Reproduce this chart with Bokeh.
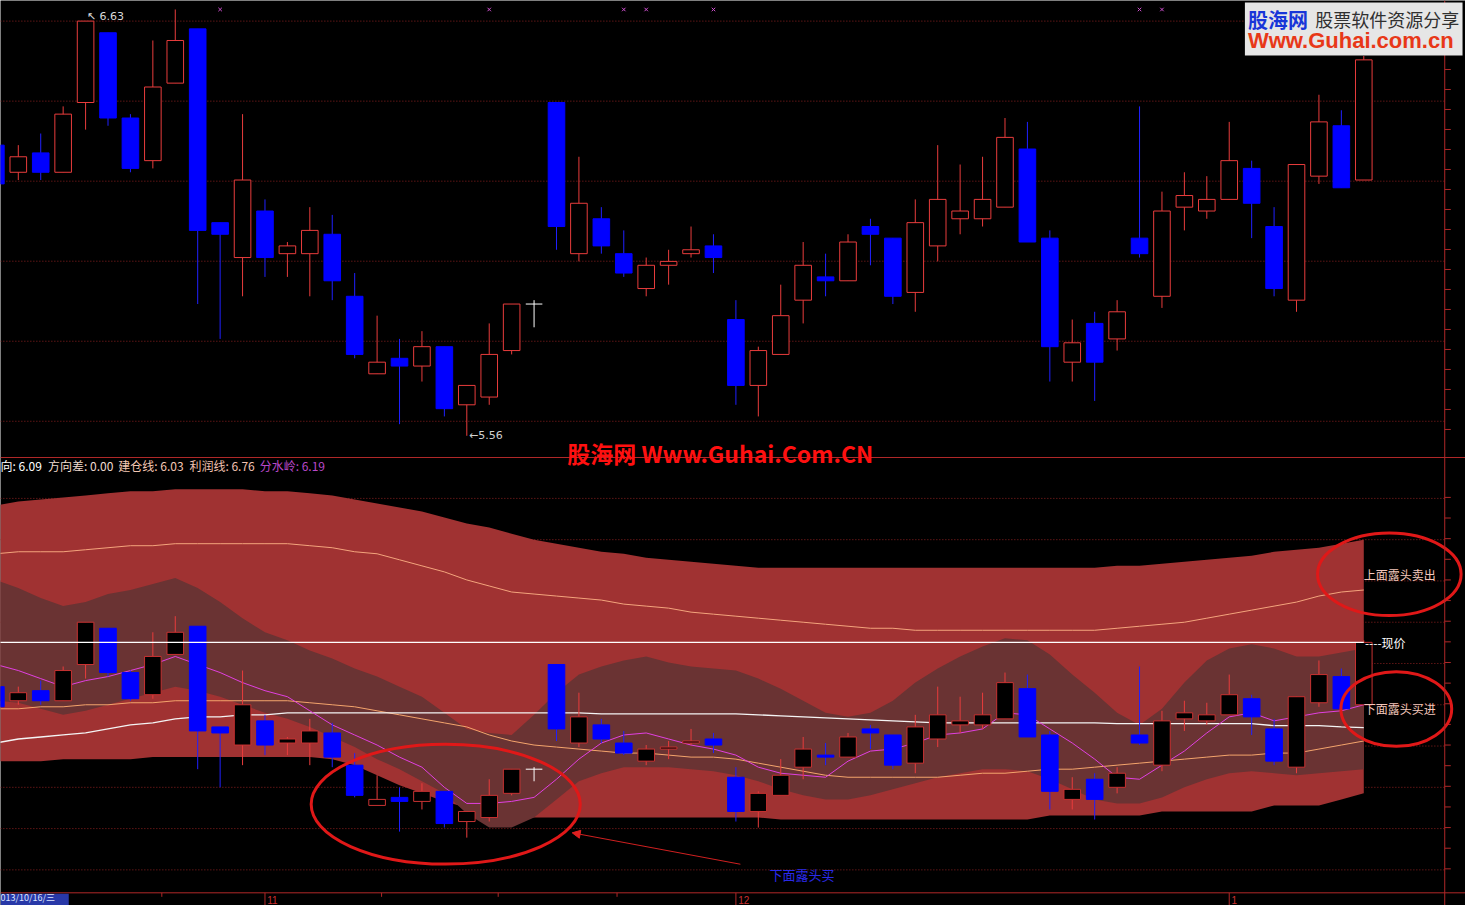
from bokeh.plotting import figure
from bokeh.models import Range1d, Label, Arrow, NormalHead, BoxAnnotation, Span
from bokeh.embed import file_html
from bokeh.resources import INLINE

# ---------------- data ----------------
idx = list(range(-1, 61))
opens = [6.31, 6.24, 6.29, 6.24, 6.42, 6.60, 6.38, 6.27, 6.47, 6.61, 6.11, 6.02, 6.14, 6.03, 6.03, 6.08,
         5.92, 5.72, 5.76, 5.74, 5.79, 5.64, 5.66, 5.78, 5.90, 6.42, 6.03, 6.12, 6.03, 5.94, 6.00, 6.03,
         6.05, 5.86, 5.69, 5.77, 5.91, 5.97, 5.96, 6.10, 6.07, 5.93, 6.05, 6.12, 6.12, 6.15, 6.30, 6.07,
         5.75, 5.85, 5.81, 6.07, 5.92, 6.15, 6.14, 6.17, 6.25, 6.10, 5.91, 6.23, 6.36, 6.22]
highs = [6.31, 6.31, 6.34, 6.41, 6.63, 6.60, 6.39, 6.58, 6.66, 6.61, 6.11, 6.39, 6.17, 6.06, 6.15, 6.13,
         5.98, 5.87, 5.81, 5.83, 5.79, 5.69, 5.85, 5.90, 5.91, 6.42, 6.28, 6.15, 6.09, 6.02, 6.04, 6.10,
         6.08, 5.91, 5.79, 5.95, 6.06, 6.03, 6.08, 6.12, 6.07, 6.17, 6.31, 6.26, 6.28, 6.38, 6.37, 6.09,
         5.86, 5.88, 5.91, 6.41, 6.19, 6.24, 6.23, 6.37, 6.27, 6.15, 6.26, 6.44, 6.40, 6.54]
lows = [6.20, 6.22, 6.22, 6.24, 6.35, 6.36, 6.24, 6.25, 6.47, 5.90, 5.81, 5.92, 5.97, 5.97, 5.92, 5.91,
        5.76, 5.72, 5.59, 5.70, 5.61, 5.56, 5.64, 5.77, 5.84, 6.04, 6.01, 6.03, 5.97, 5.92, 5.95, 6.02,
        5.98, 5.64, 5.61, 5.77, 5.85, 5.92, 5.96, 6.00, 5.90, 5.88, 6.01, 6.08, 6.10, 6.15, 6.06, 5.70,
        5.70, 5.65, 5.78, 6.02, 5.89, 6.09, 6.12, 6.17, 6.07, 5.92, 5.88, 6.21, 6.20, 6.22]
closes = [6.21, 6.28, 6.24, 6.39, 6.63, 6.38, 6.25, 6.46, 6.58, 6.09, 6.08, 6.22, 6.02, 6.05, 6.09, 5.96,
          5.77, 5.75, 5.74, 5.79, 5.63, 5.69, 5.77, 5.90, 5.90, 6.10, 6.16, 6.05, 5.98, 6.00, 6.01, 6.04,
          6.02, 5.69, 5.78, 5.87, 6.00, 5.96, 6.06, 6.08, 5.92, 6.11, 6.17, 6.14, 6.17, 6.33, 6.06, 5.79,
          5.80, 5.75, 5.88, 6.03, 6.14, 6.18, 6.17, 6.27, 6.16, 5.94, 6.26, 6.37, 6.20, 6.53]

# indicator series (lower panel)
band_top = [7.21, 7.23, 7.24, 7.25, 7.26, 7.27, 7.28, 7.28, 7.29, 7.29, 7.29, 7.29, 7.28, 7.28, 7.27, 7.26,
            7.24, 7.22, 7.20, 7.18, 7.15, 7.12, 7.10, 7.07, 7.04, 7.02, 7.00, 6.98, 6.97, 6.95, 6.94, 6.93,
            6.92, 6.91, 6.90, 6.90, 6.90, 6.90, 6.90, 6.90, 6.90, 6.90, 6.90, 6.90, 6.90, 6.90, 6.90, 6.90,
            6.90, 6.90, 6.91, 6.91, 6.92, 6.93, 6.94, 6.95, 6.96, 6.98, 6.99, 7.00, 7.02, 7.04]
band_bot = [5.94, 5.94, 5.94, 5.95, 5.95, 5.95, 5.95, 5.96, 5.96, 5.96, 5.96, 5.96, 5.96, 5.96, 5.96, 5.95,
            5.92, 5.87, 5.82, 5.78, 5.74, 5.71, 5.68, 5.67, 5.66, 5.66, 5.66, 5.66, 5.66, 5.66, 5.66, 5.66,
            5.66, 5.66, 5.66, 5.65, 5.65, 5.65, 5.65, 5.65, 5.65, 5.65, 5.65, 5.65, 5.65, 5.65, 5.65, 5.67,
            5.67, 5.67, 5.67, 5.67, 5.69, 5.69, 5.69, 5.69, 5.69, 5.72, 5.72, 5.72, 5.75, 5.78]
inner_top = [6.84, 6.80, 6.75, 6.71, 6.73, 6.77, 6.79, 6.82, 6.85, 6.80, 6.73, 6.65, 6.58, 6.54, 6.49, 6.45,
             6.40, 6.36, 6.31, 6.26, 6.18, 6.10, 6.08, 6.07, 6.17, 6.28, 6.37, 6.41, 6.44, 6.46, 6.43, 6.41,
             6.40, 6.39, 6.35, 6.30, 6.24, 6.18, 6.16, 6.18, 6.24, 6.33, 6.40, 6.46, 6.51, 6.55, 6.54, 6.47,
             6.37, 6.28, 6.18, 6.12, 6.20, 6.33, 6.44, 6.50, 6.52, 6.50, 6.46, 6.46, 6.48, 6.50]
inner_bot = [6.24, 6.23, 6.20, 6.17, 6.19, 6.22, 6.25, 6.28, 6.31, 6.29, 6.26, 6.22, 6.18, 6.15, 6.11, 6.06,
             6.01, 5.95, 5.90, 5.84, 5.78, 5.68, 5.61, 5.61, 5.66, 5.75, 5.84, 5.88, 5.91, 5.91, 5.91, 5.90,
             5.89, 5.87, 5.84, 5.80, 5.77, 5.75, 5.75, 5.77, 5.80, 5.83, 5.86, 5.88, 5.90, 5.90, 5.89, 5.85,
             5.80, 5.75, 5.73, 5.73, 5.76, 5.81, 5.85, 5.88, 5.89, 5.88, 5.87, 5.88, 5.89, 5.90]
profit_line = [6.97, 6.98, 6.98, 6.98, 6.99, 7.00, 7.01, 7.01, 7.02, 7.02, 7.02, 7.02, 7.02, 7.02, 7.01, 7.00,
               6.98, 6.97, 6.94, 6.91, 6.88, 6.84, 6.81, 6.78, 6.77, 6.76, 6.75, 6.74, 6.72, 6.71, 6.70, 6.68,
               6.67, 6.66, 6.65, 6.64, 6.63, 6.62, 6.61, 6.60, 6.60, 6.59, 6.59, 6.59, 6.59, 6.59, 6.59, 6.59,
               6.59, 6.59, 6.60, 6.61, 6.62, 6.63, 6.65, 6.67, 6.69, 6.71, 6.73, 6.76, 6.78, 6.79]
build_line = [6.20, 6.20, 6.21, 6.21, 6.22, 6.22, 6.23, 6.23, 6.24, 6.24, 6.24, 6.24, 6.24, 6.24, 6.23, 6.22,
              6.21, 6.19, 6.17, 6.15, 6.13, 6.11, 6.07, 6.04, 6.02, 6.01, 6.00, 5.99, 5.98, 5.98, 5.97, 5.96,
              5.96, 5.95, 5.93, 5.91, 5.89, 5.87, 5.86, 5.86, 5.86, 5.86, 5.86, 5.87, 5.88, 5.88, 5.89, 5.90,
              5.90, 5.91, 5.92, 5.93, 5.94, 5.95, 5.96, 5.97, 5.97, 5.98, 5.98, 6.00, 6.02, 6.04]
divide_line = [6.03, 6.05, 6.06, 6.07, 6.08, 6.10, 6.12, 6.13, 6.15, 6.16, 6.16, 6.17, 6.17, 6.18, 6.18, 6.18,
               6.18, 6.18, 6.18, 6.18, 6.18, 6.18, 6.18, 6.18, 6.18, 6.18, 6.18, 6.175, 6.175, 6.175, 6.175, 6.175,
               6.175, 6.175, 6.17, 6.165, 6.16, 6.155, 6.15, 6.145, 6.14, 6.135, 6.13, 6.13, 6.13, 6.13, 6.13, 6.13,
               6.13, 6.13, 6.126, 6.126, 6.126, 6.126, 6.126, 6.126, 6.126, 6.116, 6.116, 6.116, 6.11, 6.106]
direction_line = [6.42, 6.39, 6.35, 6.31, 6.34, 6.36, 6.39, 6.42, 6.46, 6.42, 6.38, 6.33, 6.29, 6.26, 6.19, 6.12,
                  6.07, 6.02, 5.96, 5.91, 5.81, 5.73, 5.73, 5.74, 5.76, 5.85, 5.95, 6.03, 6.07, 6.08, 6.05, 6.02,
                  6.00, 5.97, 5.91, 5.88, 5.87, 5.86, 5.94, 5.99, 6.00, 6.03, 6.07, 6.08, 6.10, 6.18, 6.17, 6.10,
                  6.03, 5.95, 5.86, 5.85, 5.92, 5.99, 6.08, 6.16, 6.18, 6.14, 6.16, 6.18, 6.19, 6.22]

signal_marks = [9, 21, 27, 28, 31, 50, 51]
hi_label = (3, 6.63)
lo_label = (20, 5.56)
month_idx = [11, 32, 54]
month_txt = ["11", "12", "1"]
week_ticks = [6.4, 16.2, 21.4, 26.7]
header_parts = ["向: 6.09", "方向差: 0.00", "建仓线: 6.03", "利润线: 6.76", "分水岭: 6.19"]
grid_top = [6.63 - k * 0.2065 for k in range(6)]
grid_bot = [6.63 - k * 0.205 for k in range(-3, 7)]

# ---------------- figure ----------------
W, H = 1465, 905
RW, RH = 1481.0, 921.0


def sx(px):
    return px * W / RW


def sy(py):
    return H - py * H / RH


p = figure(width=W, height=H, x_range=Range1d(-0.794, 64.536), y_range=Range1d(4.3481, 6.6832),
           output_backend="svg", toolbar_location=None, min_border=0,
           x_axis_type=None, y_axis_type=None,
           background_fill_color="black", border_fill_color="black", outline_line_color=None)
p.extra_y_ranges = {"bot": Range1d(5.223, 9.718)}
p.grid.visible = False

AX = 63.61   # right axis position (index units)
GRID = "#8c2020"
RED = "#e83c3c"
BLUE = "#0000ff"
BW = 0.74

# gridlines
p.segment(x0=[-0.8] * len(grid_top), x1=[AX] * len(grid_top), y0=grid_top, y1=grid_top,
          line_color=GRID, line_dash="1 2", line_width=1)
p.segment(x0=[-0.8] * len(grid_bot), x1=[AX] * len(grid_bot), y0=grid_bot, y1=grid_bot,
          line_color=GRID, line_dash="1 2", line_width=1, y_range_name="bot")

up = [c > o for o, c in zip(opens, closes)]
dn = [c < o for o, c in zip(opens, closes)]
eq = [c == o for o, c in zip(opens, closes)]


def sel(arr, mask):
    return [a for a, m in zip(arr, mask) if m]


def candles(kw, up_line):
    p.segment(x0=sel(idx, up), x1=sel(idx, up), y0=sel(lows, up), y1=sel(highs, up), line_color=RED, **kw)
    p.segment(x0=sel(idx, dn), x1=sel(idx, dn), y0=sel(lows, dn), y1=sel(highs, dn), line_color="#2020ff", **kw)
    p.segment(x0=sel(idx, eq), x1=sel(idx, eq), y0=sel(lows, eq), y1=sel(highs, eq), line_color="white", **kw)
    p.vbar(x=sel(idx, up), width=BW, top=sel(closes, up), bottom=sel(opens, up),
           fill_color="black", line_color=up_line, line_width=1, **kw)
    p.vbar(x=sel(idx, dn), width=BW, top=sel(opens, dn), bottom=sel(closes, dn),
           fill_color=BLUE, line_color=BLUE, line_width=1, **kw)
    p.segment(x0=[i - BW / 2 for i in sel(idx, eq)], x1=[i + BW / 2 for i in sel(idx, eq)],
              y0=sel(opens, eq), y1=sel(opens, eq), line_color="white", **kw)


# ---------- top panel ----------
candles({}, RED)

# ---------- lower panel ----------
p.varea(x=idx, y1=band_bot, y2=band_top, fill_color="#a03232", y_range_name="bot")
p.varea(x=idx, y1=inner_bot, y2=inner_top, fill_color="#6a3333", y_range_name="bot")
p.line(idx, profit_line, line_color="#f4a47c", line_width=1, y_range_name="bot")
p.line(idx, build_line, line_color="#f4a46c", line_width=1, y_range_name="bot")
p.line(idx, divide_line, line_color="#f4f4f4", line_width=1.3, y_range_name="bot")
p.line(idx, direction_line, line_color="#e040e0", line_width=1, y_range_name="bot")
candles({"y_range_name": "bot"}, "#c83232")

# current price line
p.segment(x0=[idx[0]], x1=[idx[-1]], y0=[closes[-1]], y1=[closes[-1]], line_color="white",
          line_width=1.2, y_range_name="bot")

# signal marks at top
p.scatter(x=signal_marks, y=[6.66] * len(signal_marks), marker="x", size=5, line_color="#d050d0")

# separators / axes
p.add_layout(Span(location=5.504, dimension="width", line_color="#b02828", line_width=1))
p.add_layout(Span(location=5.286, dimension="width", line_color="#b02828", line_width=1, y_range_name="bot"))
p.add_layout(Span(location=AX, dimension="height", line_color="#b02828", line_width=1))

t_ticks = [6.66 - k * 0.0516 for k in range(22)]
p.segment(x0=[AX] * len(t_ticks), x1=[AX + 0.27] * len(t_ticks), y0=t_ticks, y1=t_ticks, line_color="#b02828")
b_ticks = [7.25 - k * 0.1025 for k in range(19)]
p.segment(x0=[AX] * len(b_ticks), x1=[AX + 0.27] * len(b_ticks), y0=b_ticks, y1=b_ticks,
          line_color="#b02828", y_range_name="bot")

# bottom date axis
p.segment(x0=month_idx, x1=month_idx, y0=[5.286] * 3, y1=[5.20] * 3, line_color="#b02828", y_range_name="bot")
p.segment(x0=week_ticks, x1=week_ticks, y0=[5.286] * 4, y1=[5.266] * 4, line_color="#b02828", y_range_name="bot")
for m, t in zip(month_idx, month_txt):
    p.add_layout(Label(x=m + 0.1, y=1.5, y_units="screen", text=t, text_color="#c83030",
                       text_font_size="10px", text_baseline="bottom", text_font="Liberation Sans"))
p.add_layout(BoxAnnotation(left=sx(0), right=sx(69), bottom=sy(921), top=sy(909),
                           left_units="screen", right_units="screen", top_units="screen", bottom_units="screen",
                           fill_color="#2838a8", fill_alpha=1, line_color=None))
p.add_layout(Label(x=sx(0), y=1.5, x_units="screen", y_units="screen", text="013/10/16/三",
                   text_color="#dce4ff", text_font_size="9px", text_baseline="bottom",
                   text_font="Noto Sans CJK SC"))

# hi / lo labels
p.add_layout(Label(x=hi_label[0] + 0.05, y=hi_label[1] + 0.012, text="↖ " + f"{hi_label[1]:.2f}",
                   text_color="#d8d8d8", text_font_size="11px", text_baseline="middle",
                   text_font="DejaVu Sans"))
p.add_layout(Label(x=lo_label[0] + 0.1, y=lo_label[1], text="←" + f"{lo_label[1]:.2f}",
                   text_color="#d0d0d0", text_font_size="11px", text_baseline="middle",
                   text_font="DejaVu Sans"))

# header line of the lower panel
hx = [0, 48, 119, 191, 262]
hcol = ["#ffffff", "#f0dcd0", "#f5c8b4", "#f2c0b0", "#b848c8"]
for x, t, c in zip(hx, header_parts, hcol):
    p.add_layout(Label(x=sx(x), y=sy(473), x_units="screen", y_units="screen", text=t, text_color=c,
                       text_font_size="12px", text_baseline="middle", text_font="Noto Sans CJK SC"))

# watermark
p.add_layout(Label(x=sx(573), y=sy(461), x_units="screen", y_units="screen", text="股海网 Www.Guhai.Com.CN",
                   text_color="#ff1010", text_font_size="23px", text_font_style="bold", text_baseline="middle",
                   text_font="Noto Sans CJK SC"))

# logo
p.add_layout(BoxAnnotation(left=sx(1258), right=sx(1478), top=sy(2), bottom=sy(56),
                           left_units="screen", right_units="screen", top_units="screen", bottom_units="screen",
                           fill_color="#e6e6e6", fill_alpha=1, line_color=None))
p.add_layout(Label(x=sx(1261), y=sy(19), x_units="screen", y_units="screen", text="股海网",
                   text_color="#1836d8", text_font_size="20px", text_font_style="bold", text_baseline="middle",
                   text_font="Noto Sans CJK SC"))
p.add_layout(Label(x=sx(1329), y=sy(19), x_units="screen", y_units="screen", text="股票软件资源分享",
                   text_color="#303030", text_font_size="18px", text_baseline="middle",
                   text_font="Noto Sans CJK SC"))
p.add_layout(Label(x=sx(1261), y=sy(41), x_units="screen", y_units="screen", text="Www.Guhai.com.cn",
                   text_color="#e83818", text_font_size="22px", text_font_style="bold", text_baseline="middle",
                   text_font="Liberation Sans"))

# annotations on lower panel
p.ellipse(x=[19.06, 61.14, 61.45], y=[5.726, 6.868, 6.199], width=[12.0, 6.40, 4.94],
          height=[0.595, 0.41, 0.371], fill_color=None, line_color="#e01818", line_width=3,
          y_range_name="bot")
p.add_layout(Arrow(x_start=32.2, y_start=5.428, x_end=24.7, y_end=5.584, y_range_name="bot",
                   line_color="#d02020", line_width=1,
                   end=NormalHead(size=8, fill_color="#e02020", line_color="#e02020")))
p.add_layout(Label(x=33.5, y=5.378, y_range_name="bot", text="下面露头买", text_color="#2a2ae8",
                   text_font_size="13px", text_baseline="middle", text_font="Noto Sans CJK SC"))
p.add_layout(Label(x=idx[-1], y=6.868, y_range_name="bot", text="上面露头卖出", text_color="#f4c8bc",
                   text_font_size="12px", text_baseline="middle", text_font="Noto Sans CJK SC"))
p.add_layout(Label(x=idx[-1], y=6.199, y_range_name="bot", text="下面露头买进", text_color="#f4c8bc",
                   text_font_size="12px", text_baseline="middle", text_font="Noto Sans CJK SC"))
p.add_layout(Label(x=idx[-1] + 0.05, y=closes[-1], y_range_name="bot", text="----现价", text_color="#ffffff",
                   text_font_size="12px", text_baseline="middle", text_font="Noto Sans CJK SC"))

open("out.html", "w").write(file_html(p, INLINE))
